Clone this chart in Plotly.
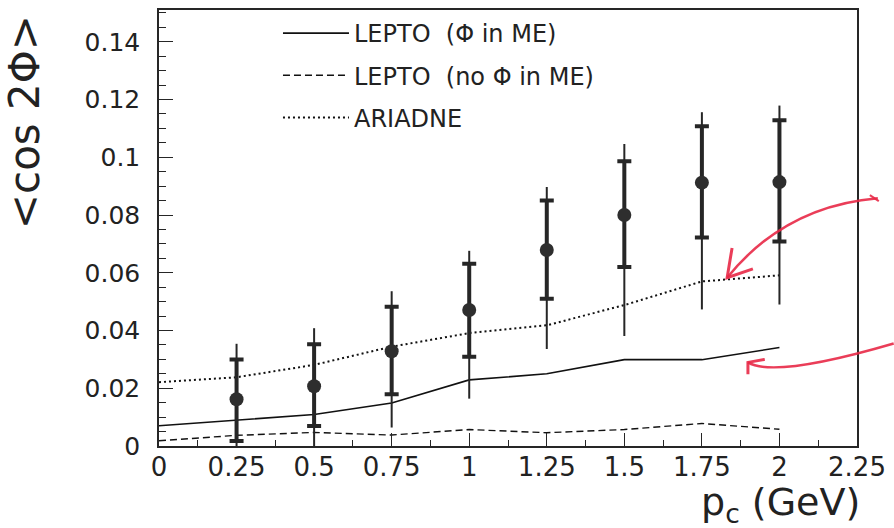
import plotly.graph_objects as go

# ---- data ----
pc_points = [0.25, 0.5, 0.75, 1.0, 1.25, 1.5, 1.75, 2.0]
cos2phi = [0.0162, 0.0207, 0.0328, 0.0471, 0.0679, 0.0800, 0.0912, 0.0914]
stat_hi = [0.0300, 0.0352, 0.0482, 0.0631, 0.0850, 0.0986, 0.1107, 0.1128]
stat_lo = [0.0017, 0.0069, 0.0179, 0.0309, 0.0510, 0.0620, 0.0722, 0.0708]
tot_hi = [0.0354, 0.0408, 0.0536, 0.0676, 0.0897, 0.1046, 0.1156, 0.1179]
tot_lo = [-0.0030, -0.0010, 0.0064, 0.0164, 0.0336, 0.0381, 0.0473, 0.0490]

pc_curves = [0.0, 0.25, 0.5, 0.75, 1.0, 1.25, 1.5, 1.75, 2.0]
lepto_me = [0.0070, 0.0089, 0.0109, 0.0149, 0.0229, 0.0250, 0.0299, 0.0299, 0.0341]
lepto_no_me = [0.0018, 0.0037, 0.0047, 0.0038, 0.0057, 0.0046, 0.0057, 0.0078, 0.0058]
ariadne = [0.0221, 0.0238, 0.0281, 0.0344, 0.0391, 0.0418, 0.0488, 0.0570, 0.0591]

x_ticks = [0, 0.25, 0.5, 0.75, 1, 1.25, 1.5, 1.75, 2, 2.25]
x_ticktext = ["0", "0.25", "0.5", "0.75", "1", "1.25", "1.5", "1.75", "2", "2.25"]
y_ticks = [0, 0.02, 0.04, 0.06, 0.08, 0.1, 0.12, 0.14]
y_ticktext = ["0", "0.02", "0.04", "0.06", "0.08", "0.1", "0.12", "0.14"]

INK = "#262626"
FONT = "DejaVu Sans"

fig = go.Figure()

fig.add_trace(go.Scatter(
    x=pc_curves, y=lepto_me, mode="lines", name="LEPTO  (Φ in ME)",
    legendgroup="a", line=dict(color="#111111", width=1.6)))
fig.add_trace(go.Scatter(
    x=pc_curves, y=lepto_no_me, mode="lines", name="LEPTO  (no Φ in ME)",
    legendgroup="b", line=dict(color="#111111", width=1.4, dash="7px,4px")))
fig.add_trace(go.Scatter(
    x=pc_curves, y=ariadne, mode="lines", name="ARIADNE",
    legendgroup="c", line=dict(color="#111111", width=2, dash="2px,3px")))

# total (outer) error bars
fig.add_trace(go.Scatter(
    x=pc_points, y=cos2phi, mode="markers", showlegend=False,
    marker=dict(size=1, color="rgba(0,0,0,0)"),
    error_y=dict(type="data", symmetric=False,
                 array=[h - m for h, m in zip(tot_hi, cos2phi)],
                 arrayminus=[m - l for m, l in zip(cos2phi, tot_lo)],
                 color=INK, thickness=2, width=0)))
# statistical (inner) error bars + points
fig.add_trace(go.Scatter(
    x=pc_points, y=cos2phi, mode="markers", showlegend=False,
    marker=dict(size=14, color="#2e2e2e", symbol="circle"),
    error_y=dict(type="data", symmetric=False,
                 array=[h - m for h, m in zip(stat_hi, cos2phi)],
                 arrayminus=[m - l for m, l in zip(cos2phi, stat_lo)],
                 color=INK, thickness=4, width=7)))

L, R, T, B = 159, 31, 8, 82
W, H = 894, 528
pw, ph = W - L - R, H - T - B


def px(xp):
    return (xp - L) / pw


def py(yp):
    return (H - B - yp) / ph


# hand-drawn red arrows (decoration, paper coordinates)
red = "rgba(232,40,70,0.9)"
arrow1 = "M {} {} Q {} {} {} {}".format(px(884), py(197), px(790), py(205), px(732), py(277))
arrow1_head = "M {} {} L {} {} L {} {}".format(px(737), py(247), px(732), py(277), px(758), py(268))
arrow1_hook = "M {} {} L {} {}".format(px(876), py(194), px(885), py(200))
arrow2 = "M {} {} Q {} {} {} {}".format(px(900), py(343), px(780), py(378), px(753), py(362))
arrow2_head = "M {} {} L {} {} L {} {}".format(px(770), py(359), px(753), py(362), px(753), py(374))
shapes = []
for p, w in [(arrow1, 2.5), (arrow1_head, 3), (arrow1_hook, 2), (arrow2, 2.5), (arrow2_head, 3)]:
    shapes.append(dict(type="path", path=p, xref="paper", yref="paper",
                       line=dict(color=red, width=w), layer="above"))

fig.update_layout(
    width=W, height=H,
    margin=dict(l=L, r=R, t=T, b=B),
    paper_bgcolor="white", plot_bgcolor="white",
    font=dict(family=FONT, color="#222222"),
    showlegend=True,
    legend=dict(x=px(279), y=py(9), xanchor="left", yanchor="top",
                bgcolor="rgba(0,0,0,0)", font=dict(size=24, family=FONT, color="#222222"),
                tracegroupgap=8, itemwidth=66),
    shapes=shapes,
    annotations=[
        dict(text="<cos 2Φ>", textangle=-90, xref="paper", yref="paper",
             x=px(24), y=py(11), xanchor="center", yanchor="top", showarrow=False,
             font=dict(size=42, family=FONT, color="#222222")),
        dict(text="p<sub>c</sub> (GeV)", xref="paper", yref="paper",
             x=px(868), y=py(505), xanchor="right", yanchor="middle", showarrow=False,
             font=dict(size=38, family=FONT, color="#222222")),
    ],
)

fig.update_xaxes(
    range=[0, 2.25], tickvals=x_ticks, ticktext=x_ticktext,
    ticks="inside", ticklen=13, tickwidth=1.2, tickcolor=INK,
    minor=dict(dtick=0.125, tick0=0, ticks="inside", ticklen=6, tickwidth=1.2, tickcolor=INK),
    showline=True, linecolor=INK, linewidth=1.5, mirror=True,
    showgrid=False, zeroline=False,
    tickfont=dict(size=26, family=FONT, color="#222222"),
    ticklabelstandoff=-3,
)
fig.update_yaxes(
    range=[0, 0.151], tickvals=y_ticks, ticktext=y_ticktext,
    ticks="inside", ticklen=14, tickwidth=1.2, tickcolor=INK,
    minor=dict(dtick=0.005, tick0=0, ticks="inside", ticklen=7, tickwidth=1.2, tickcolor=INK),
    showline=True, linecolor=INK, linewidth=1.5, mirror=True,
    showgrid=False, zeroline=False,
    tickfont=dict(size=25, family=FONT, color="#222222"),
    ticklabelstandoff=12,
)

fig.write_html("out.html", config={"displayModeBar": False},
               post_script="document.body.style.margin='0';")
